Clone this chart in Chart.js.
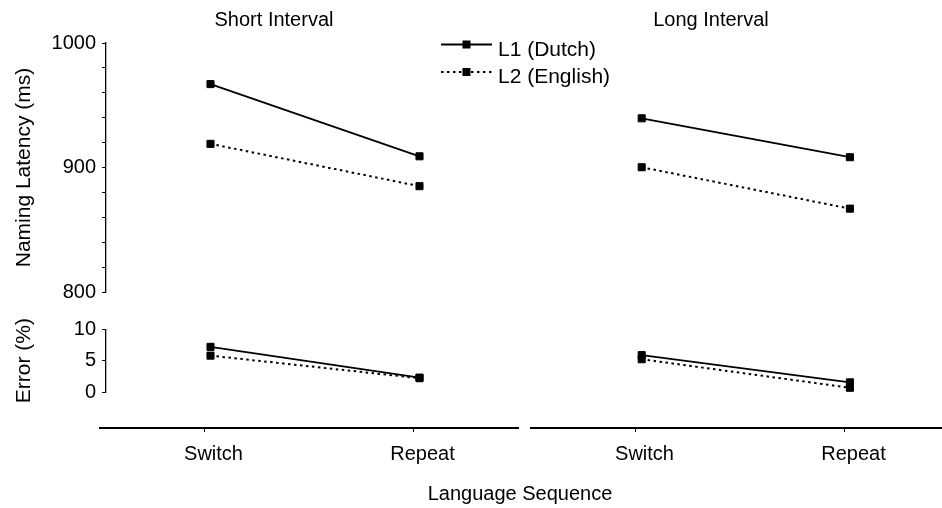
<!DOCTYPE html>
<html>
<head>
<meta charset="utf-8">
<title>Naming latency and error by language sequence</title>
<script src="https://cdn.jsdelivr.net/npm/chart.js@4.4.1/dist/chart.umd.min.js"></script>
<style>
  html, body { margin: 0; padding: 0; background: #fff; overflow: hidden; }
  #figure {
    position: relative; width: 942px; height: 508px; overflow: hidden; background: #fff;
    font-family: 'Liberation Sans', Arial, Helvetica, sans-serif; color: #000;
  }
  #figure canvas { position: absolute; }
  .caption {
    position: absolute; font-size: 20px; line-height: 24px; white-space: nowrap;
    transform: translateX(-50%);
  }
</style>
</head>
<body>
<div id="figure">
  <canvas id="latShort" width="640" height="310" style="left:0;top:0"></canvas>
  <canvas id="errShort" width="540" height="110" style="left:0;top:300px"></canvas>
  <canvas id="latLong" width="440" height="310" style="left:520px;top:0"></canvas>
  <canvas id="errLong" width="440" height="110" style="left:520px;top:300px"></canvas>
  <canvas id="axisShort" width="540" height="100" style="left:0;top:400px"></canvas>
  <canvas id="axisLong" width="440" height="100" style="left:520px;top:400px"></canvas>
  <div class="caption" style="left:274px;top:7px">Short Interval</div>
  <div class="caption" style="left:711px;top:7px">Long Interval</div>
  <div class="caption" style="left:520px;top:481px">Language Sequence</div>
</div>
<script>
// Conditions and series
const sequence = ['Switch', 'Repeat'];
const languages = ['L1 (Dutch)', 'L2 (English)'];

// Naming latency (ms)
const shortLatencyL1 = [967, 909];
const shortLatencyL2 = [919, 885];
const longLatencyL1 = [940, 909];
const longLatencyL2 = [901, 868];

// Error rate (%)
const shortErrorL1 = [7.2, 2.3];
const shortErrorL2 = [5.8, 2.2];
const longErrorL1 = [6.2, 2.2];
const longErrorL2 = [5.6, 1.4];

// Labelled tick values
const latencyTickLabels = [800, 900, 1000];
const errorTickLabels = [0, 5, 10];

const FONT = "'Liberation Sans', Arial, Helvetica, sans-serif";
Chart.defaults.font.family = FONT;
Chart.defaults.font.size = 20;
Chart.defaults.color = '#000';
Chart.defaults.animation = false;
Chart.defaults.responsive = false;
Chart.defaults.devicePixelRatio = 1;
Chart.defaults.plugins.legend.display = false;
Chart.defaults.plugins.tooltip.enabled = false;

const lineStyles = [
  { borderWidth: 1.8, borderDash: [] },
  { borderWidth: 2, borderDash: [2.5, 3.5] }
];

function seriesDatasets(l1, l2) {
  return [l1, l2].map((data, i) => ({
    label: languages[i],
    data,
    borderColor: '#000',
    backgroundColor: '#000',
    borderWidth: lineStyles[i].borderWidth,
    borderDash: lineStyles[i].borderDash,
    pointStyle: 'rect',
    pointRadius: 5,
    pointBorderWidth: 1,
    pointBackgroundColor: '#000',
    pointBorderColor: '#000',
    fill: false,
    tension: 0
  }));
}

// Key with a line sample and marker for each language
const seriesKey = {
  id: 'seriesKey',
  afterDraw(chart, args, opts) {
    if (!opts.display) return;
    const ctx = chart.ctx;
    ctx.save();
    chart.data.datasets.forEach((ds, i) => {
      const y = opts.top + i * opts.rowGap;
      ctx.strokeStyle = ds.borderColor;
      ctx.lineWidth = ds.borderWidth;
      ctx.setLineDash(ds.borderDash);
      ctx.beginPath();
      ctx.moveTo(opts.left, y);
      ctx.lineTo(opts.left + opts.lineLength, y);
      ctx.stroke();
      ctx.setLineDash([]);
      ctx.fillStyle = '#000';
      const s = opts.markerSize;
      ctx.fillRect(opts.left + opts.lineLength / 2 - s / 2, y - s / 2, s, s);
      ctx.font = opts.fontSize + 'px ' + FONT;
      ctx.textBaseline = 'alphabetic';
      ctx.textAlign = 'left';
      ctx.fillText(ds.label, opts.textLeft, y + opts.baselineShift);
    });
    ctx.restore();
  }
};
Chart.register(seriesKey);
Chart.defaults.plugins.seriesKey = { display: false };

function valueAxis(min, max, step, labelled, title, show) {
  const axis = {
    type: 'linear',
    position: 'left',
    display: show,
    min, max,
    ticks: {
      stepSize: step,
      autoSkip: false,
      padding: 6,
      callback: v => (labelled.includes(v) ? String(v) : '')
    },
    grid: { display: true, drawOnChartArea: false, drawTicks: true, tickLength: 4, color: '#000', lineWidth: 1 },
    border: { display: true, color: '#000', width: 1.3 },
    title: { display: true, text: title, font: { size: 21 }, padding: { top: 12, bottom: 0 } }
  };
  if (show) axis.afterFit = scale => { scale.width = 106; };
  return axis;
}

function panelChart(id, l1, l2, axis, padding, key) {
  return new Chart(document.getElementById(id), {
    type: 'line',
    data: { labels: sequence, datasets: seriesDatasets(l1, l2) },
    options: {
      layout: { padding },
      plugins: { seriesKey: key || { display: false } },
      scales: {
        x: { type: 'category', offset: true, display: false },
        y: axis
      }
    }
  });
}

function sequenceAxis(id, padLeft, padRight) {
  return new Chart(document.getElementById(id), {
    type: 'line',
    data: { labels: sequence, datasets: [] },
    options: {
      layout: { padding: { left: padLeft, right: padRight, top: 0, bottom: 0 } },
      scales: {
        x: {
          type: 'category',
          offset: true,
          position: 'bottom',
          grid: { display: true, offset: false, drawOnChartArea: false, drawTicks: true, tickLength: 4, color: '#000', lineWidth: 1 },
          border: { display: true, color: '#000', width: 2 },
          ticks: { padding: 10, labelOffset: 9, autoSkip: false, maxRotation: 0 },
          afterFit(scale) { scale.height = 72; }
        },
        y: { display: false }
      }
    }
  });
}

// Short interval
panelChart('latShort', shortLatencyL1, shortLatencyL2,
  valueAxis(800, 1000, 20, latencyTickLabels, 'Naming Latency (ms)', true),
  { left: 0, right: 116, top: 43, bottom: 16 },
  { display: true, left: 441, lineLength: 51, top: 44.5, rowGap: 27.5, textLeft: 498, baselineShift: 11, markerSize: 8, fontSize: 21 });
panelChart('errShort', shortErrorL1, shortErrorL2,
  valueAxis(0, 10, 5, errorTickLabels, 'Error (%)', true),
  { left: 0, right: 16, top: 29.3, bottom: 12.7 });
sequenceAxis('axisShort', 100, 22);

// Long interval
panelChart('latLong', longLatencyL1, longLatencyL2,
  valueAxis(800, 1000, 20, latencyTickLabels, '', false),
  { left: 17.6, right: 3.6, top: 43, bottom: 16 });
panelChart('errLong', longErrorL1, longErrorL2,
  valueAxis(0, 10, 5, errorTickLabels, '', false),
  { left: 17.6, right: 3.6, top: 29.3, bottom: 12.7 });
sequenceAxis('axisLong', 11, 11);
</script>
</body>
</html>
